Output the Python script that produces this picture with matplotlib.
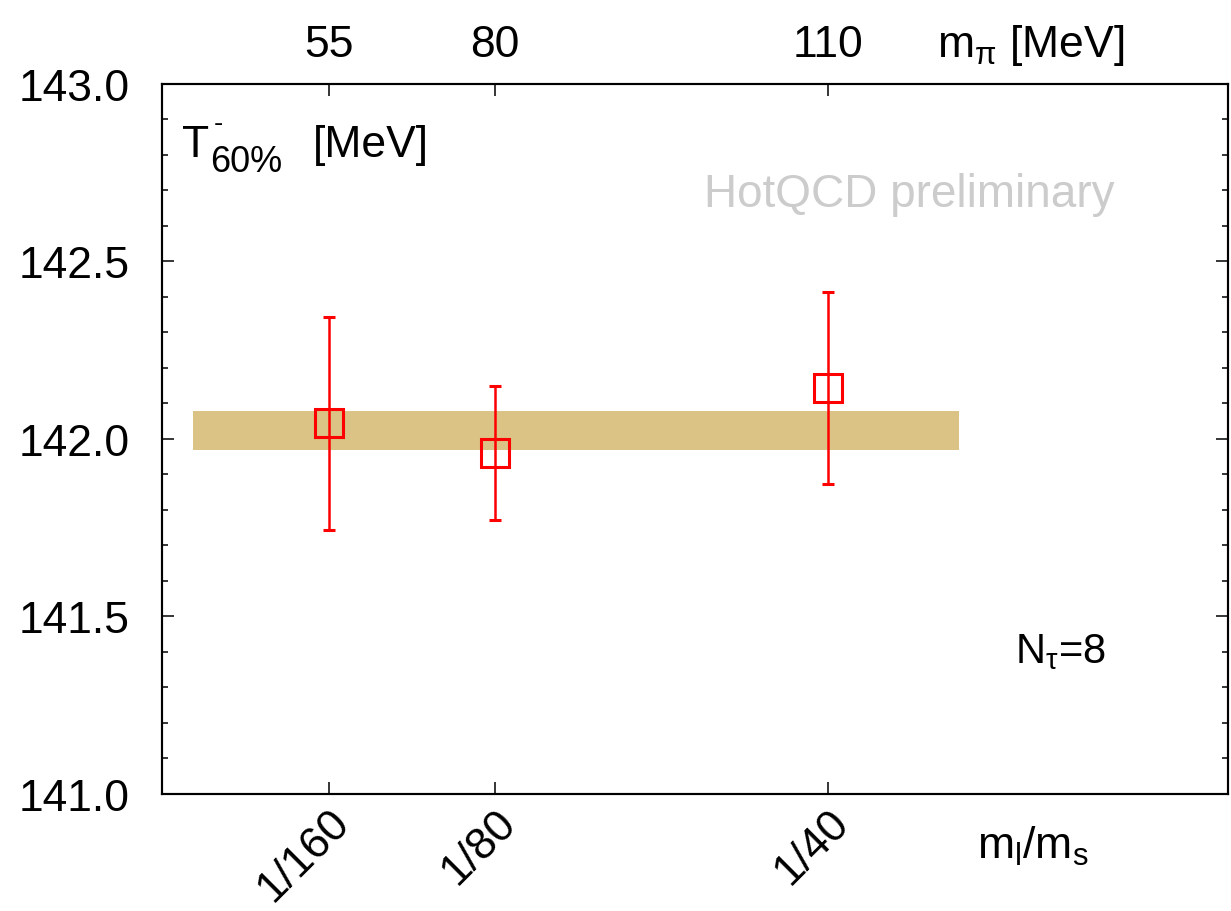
import numpy as np
import matplotlib
matplotlib.use("Agg")
import matplotlib.pyplot as plt
import matplotlib.transforms as mtransforms
from matplotlib.ticker import MultipleLocator

plt.rcParams['font.family'] = ['Liberation Sans', 'DejaVu Sans']
plt.rcParams['mathtext.fontset'] = 'custom'
plt.rcParams['mathtext.rm'] = 'Liberation Sans'
plt.rcParams['mathtext.it'] = 'Liberation Sans'

# data
ml_ms = [1/160, 1/80, 1/40]
ml_labels = ['1/160', '1/80', '1/40']
mpi_labels = ['55', '80', '110']
T60 = [142.045, 141.961, 142.143]
T60_err = [0.30, 0.188, 0.271]
band_x = [0.00116, 0.0299]
band_lo = 141.970
band_hi = 142.079

FS = 32

fig = plt.figure(figsize=(12.31, 9.12), dpi=100)
ax = fig.add_axes([0.1316, 0.1283, 0.866, 0.7785])

ax.fill_between(band_x, band_lo, band_hi, color='#dac384', lw=0, zorder=1)
ax.errorbar(ml_ms, T60, yerr=T60_err, fmt='s', mfc='none', mec='red', mew=2.2,
            ms=20, color='red', elinewidth=1.8, capsize=4.5, capthick=1.8, zorder=3)

ax.set_xlim(0, 0.04)
ax.set_ylim(141.0, 143.0)
ax.set_xticks(ml_ms)
ax.set_xticklabels(ml_labels, rotation=45, ha='right', va='top',
                   rotation_mode='anchor', fontsize=FS)
# nudge the rotated labels a little to the left, like the original
shift = mtransforms.ScaledTranslation(-8 / 72, 0, fig.dpi_scale_trans)
for lab in ax.get_xticklabels():
    lab.set_transform(lab.get_transform() + shift)
ax.yaxis.set_major_locator(MultipleLocator(0.5))
ax.yaxis.set_minor_locator(MultipleLocator(0.1))
ax.set_yticklabels(['%.1f' % v for v in ax.get_yticks()], fontsize=FS)
ax.tick_params(axis='y', which='major', direction='in', length=8.5, width=1.1,
               right=True, pad=23)
ax.tick_params(axis='y', which='minor', direction='in', length=4.5, width=1.1,
               right=True)
ax.tick_params(axis='x', which='major', direction='in', length=8.5, width=1.1,
               pad=5)
for s in ax.spines.values():
    s.set_linewidth(1.5)

top = ax.twiny()
top.set_xlim(ax.get_xlim())
top.set_xticks(ml_ms)
top.set_xticklabels(mpi_labels, fontsize=FS)
top.tick_params(axis='x', direction='in', length=8.5, width=1.1, pad=14)
for s in top.spines.values():
    s.set_linewidth(1.5)

fig.text(0.761, 0.9375, r'm$_{\pi}$ [MeV]', fontsize=FS, ha='left', va='baseline')
fig.text(0.794, 0.058, r'm$_{\rm l}$/m$_{\rm s}$', fontsize=FS, ha='left', va='baseline')

# T^-_{60%} [MeV] label, pieced together so the subscript is large like the original
ax.text(0.019, 0.899, 'T', transform=ax.transAxes, fontsize=FS, ha='left', va='baseline')
ax.text(0.045, 0.877, '60%', transform=ax.transAxes, fontsize=26, ha='left', va='baseline')
ax.text(0.0525, 0.945, '-', transform=ax.transAxes, fontsize=20, ha='center', va='center')
ax.text(0.1417, 0.899, '[MeV]', transform=ax.transAxes, fontsize=FS, ha='left', va='baseline')

ax.text(0.894, 0.828, 'HotQCD preliminary', transform=ax.transAxes,
        fontsize=33, color='#cccccc', ha='right', va='baseline')
ax.text(0.800, 0.186, r'N$_{\tau}$=8', transform=ax.transAxes,
        fontsize=30, ha='left', va='baseline')

fig.savefig('out.png', dpi=100)
